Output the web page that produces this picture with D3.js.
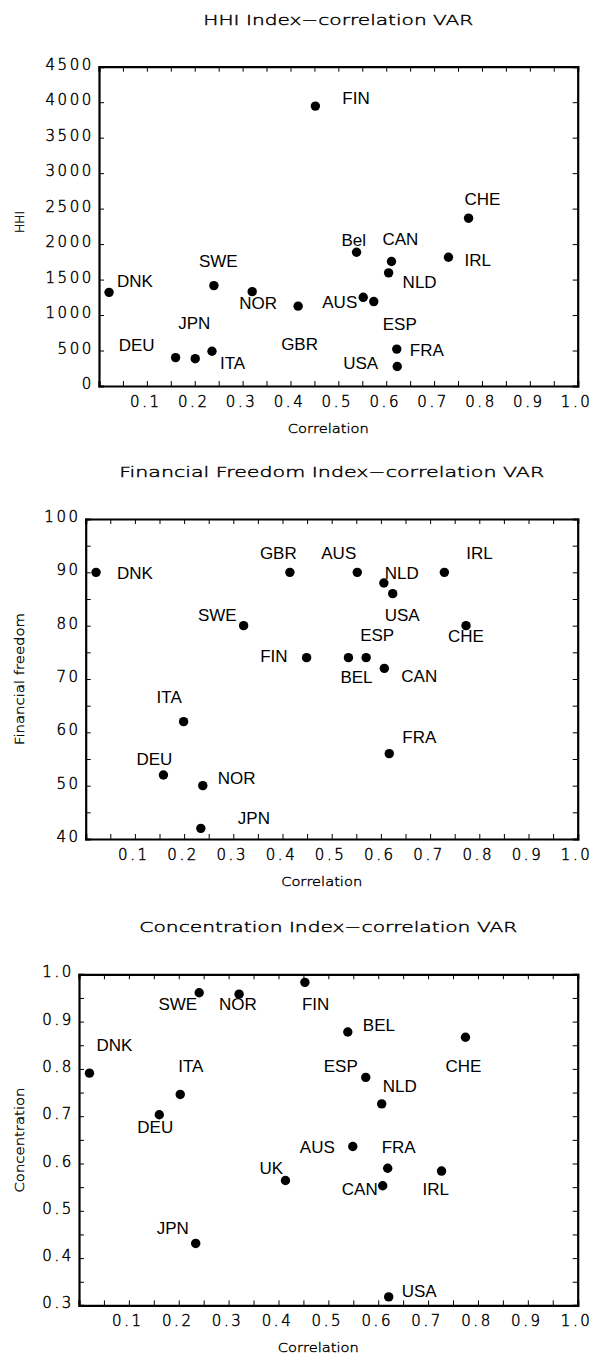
<!DOCTYPE html>
<html>
<head>
<meta charset="utf-8">
<script src="https://cdn.jsdelivr.net/npm/d3@7"></script>
<style>
  html, body { margin: 0; padding: 0; background: #fff; }
  svg { display: block; }
  .tick-label { font-family: "DejaVu Sans", sans-serif; font-weight: 200; font-size: 15px; letter-spacing: 2.6px; fill: #000; stroke: #000; stroke-width: 0.45px; }
  .title { font-family: "DejaVu Sans", sans-serif; font-weight: 200; font-size: 14px; fill: #000; stroke: #000; stroke-width: 0.4px; }
  .axis-title { font-family: "DejaVu Sans", sans-serif; font-weight: 200; font-size: 12px; fill: #000; stroke: #000; stroke-width: 0.35px; }
  .pt-label { font-family: "Liberation Sans", Arial, sans-serif; font-size: 17px; fill: #000; }
</style>
</head>
<body>
<script>
// ---------------- DATA ----------------
const xTickLabels = ["0.1","0.2","0.3","0.4","0.5","0.6","0.7","0.8","0.9","1.0"];

// Panel 1: HHI
const hhiTitle = "HHI Index\u2212correlation VAR";
const hhiCountries = ["DNK","DEU","JPN","ITA","SWE","NOR","GBR","FIN","Bel","AUS","ESP","NLD","CAN","FRA","USA","IRL","CHE"];
const hhiCorr      = [0.021,0.160,0.201,0.236,0.240,0.320,0.416,0.452,0.538,0.552,0.574,0.605,0.611,0.622,0.623,0.730,0.772];
const hhiValues    = [1320, 400, 385, 490, 1415, 1330, 1125, 3945, 1885, 1250, 1190, 1595, 1755, 520, 275, 1815, 2365];
const hhiTickLabels = ["0","500","1000","1500","2000","2500","3000","3500","4000","4500"];

// Panel 2: Financial freedom
const ffTitle = "Financial Freedom Index\u2212correlation VAR";
const ffCountries = ["DNK","GBR","SWE","AUS","NLD","USA","IRL","CHE","ESP","FIN","BEL","CAN","ITA","FRA","DEU","NOR","JPN"];
const ffCorr      = [0.021,0.415,0.321,0.552,0.606,0.624,0.729,0.773,0.570,0.449,0.534,0.607,0.199,0.617,0.158,0.238,0.234];
const ffValues    = [90, 90, 80, 90, 88, 86, 90, 80, 74, 74, 74, 72, 62, 56, 52, 50, 42];
const ffTickLabels = ["40","50","60","70","80","90","100"];

// Panel 3: Concentration
const concTitle = "Concentration Index\u2212correlation VAR";
const concCountries = ["SWE","NOR","DNK","ITA","DEU","FIN","BEL","CHE","ESP","NLD","AUS","FRA","UK","IRL","CAN","JPN","USA"];
const concCorr      = [0.241,0.321,0.021,0.203,0.161,0.453,0.539,0.775,0.575,0.607,0.549,0.619,0.414,0.727,0.609,0.234,0.621];
const concValues    = [0.961,0.958,0.791,0.746,0.703,0.983,0.878,0.867,0.782,0.726,0.636,0.590,0.564,0.584,0.553,0.431,0.318];
const concTickLabels = ["0.3","0.4","0.5","0.6","0.7","0.8","0.9","1.0"];

// ---------------- LABEL PLACEMENT (annotation offsets, px) ----------------
const hhiLabelOffsets = [[8,-5,"start"],[-21,-7,"end"],[-17,-30,"start"],[8,18,"start"],[-15,-19,"start"],[-13,17,"start"],
  [-17,44,"start"],[27,-2,"start"],[-15,-6,"start"],[-6,11,"end"],[9,28,"start"],[14,15,"start"],[-9,-16,"start"],
  [13,7,"start"],[-19,3,"end"],[16,9,"start"],[-4,-13,"start"]];
const ffLabelOffsets = [[21,7,"start"],[-30,-13,"start"],[-7,-5,"end"],[-36,-13,"start"],[1,-4,"start"],[-8,27,"start"],
  [22,-13,"start"],[-18,16,"start"],[-6,-17,"start"],[-19,4,"end"],[-8,25,"start"],[17,14,"start"],[-27,-19,"start"],
  [13,-11,"start"],[-27,-10,"start"],[15,-2,"start"],[37,-4,"start"]];
const concLabelOffsets = [[-2,17,"end"],[-20,16,"start"],[7,-22,"start"],[-2,-22,"start"],[-22,18,"start"],[-3,28,"start"],
  [15,-1,"start"],[-20,35,"start"],[-8,-5,"end"],[1,-12,"start"],[-18,7,"end"],[-6,-15,"start"],[-26,-7,"start"],
  [-19,24,"start"],[-5,9,"end"],[-39,-9,"start"],[13,0,"start"]];

// ---------------- DRAW ----------------
const W = 597, H = 1361;
const svg = d3.select("body").append("svg").attr("width", W).attr("height", H);

function panel(cfg) {
  const g = svg.append("g");
  const x = d3.scaleLinear().domain([0, 1]).range([cfg.left, cfg.right]);
  const y = d3.scaleLinear().domain(cfg.yDomain).range([cfg.bottom, cfg.top]);

  // title
  g.append("text").attr("class", "title")
    .attr("x", (cfg.left + cfg.right) / 2).attr("y", cfg.top - 42)
    .attr("text-anchor", "middle")
    .attr("textLength", cfg.titleLen).attr("lengthAdjust", "spacingAndGlyphs")
    .text(cfg.title);

  // axes with inward ticks
  const xTickVals = d3.range(1, 20).map(i => i * 0.05);
  const yTickVals = d3.range(0, Math.round((cfg.yDomain[1] - cfg.yDomain[0]) / cfg.yTickStep) + 1)
    .map(i => cfg.yDomain[0] + i * cfg.yTickStep);

  const axes = [
    [d3.axisBottom(x).tickValues(xTickVals).tickSize(-5).tickFormat(""), `translate(0,${cfg.bottom})`],
    [d3.axisTop(x).tickValues(xTickVals).tickSize(-5).tickFormat(""), `translate(0,${cfg.top})`],
    [d3.axisLeft(y).tickValues(yTickVals).tickSize(-5).tickFormat(""), `translate(${cfg.left},0)`],
    [d3.axisRight(y).tickValues(yTickVals).tickSize(-5).tickFormat(""), `translate(${cfg.right},0)`]
  ];
  axes.forEach(([ax, tr]) => {
    const a = g.append("g").attr("transform", tr).call(ax);
    a.select(".domain").attr("stroke", "#000").attr("stroke-width", 2.2);
    a.selectAll(".tick line").attr("stroke", "#000").attr("stroke-width", 1);
  });

  // x tick labels
  g.selectAll(".xl").data(xTickLabels).join("text")
    .attr("class", "tick-label")
    .attr("x", d => x(+d) - 1).attr("y", cfg.bottom + 21)
    .attr("text-anchor", "middle")
    .text(d => d);

  // y tick labels
  g.selectAll(".yl").data(cfg.yTickLabels).join("text")
    .attr("class", "tick-label")
    .attr("x", cfg.left - 5).attr("y", d => y(+d) + 3)
    .attr("text-anchor", "end")
    .text(d => d);

  // axis titles
  g.append("text").attr("class", "axis-title")
    .attr("x", (cfg.left + cfg.right) / 2 - 10).attr("y", cfg.bottom + 47)
    .attr("text-anchor", "middle")
    .attr("textLength", 81).attr("lengthAdjust", "spacingAndGlyphs")
    .text("Correlation");
  g.append("text").attr("class", "axis-title")
    .attr("transform", `translate(24,${cfg.yTitleY}) rotate(-90)`)
    .attr("text-anchor", "middle")
    .attr("textLength", cfg.yTitleLen).attr("lengthAdjust", "spacingAndGlyphs")
    .text(cfg.yTitle);

  // points
  g.selectAll("circle").data(cfg.corr).join("circle")
    .attr("cx", d => x(d)).attr("cy", (d, i) => y(cfg.values[i]))
    .attr("r", 4.7).attr("fill", "#000");

  // point labels
  g.selectAll(".pl").data(cfg.names).join("text")
    .attr("class", "pt-label")
    .attr("x", (d, i) => x(cfg.corr[i]) + cfg.offsets[i][0])
    .attr("y", (d, i) => y(cfg.values[i]) + cfg.offsets[i][1])
    .attr("text-anchor", (d, i) => cfg.offsets[i][2])
    .text(d => d);
}

panel({ title: hhiTitle, titleLen: 270, left: 99, right: 577.7, top: 66.7, bottom: 386,
  yDomain: [0, 4500], yTickStep: 500, yTickLabels: hhiTickLabels,
  yTitle: "HHI", yTitleLen: 22, yTitleY: 222,
  names: hhiCountries, corr: hhiCorr, values: hhiValues, offsets: hhiLabelOffsets });

panel({ title: ffTitle, titleLen: 425, left: 85.7, right: 577.7, top: 519, bottom: 839,
  yDomain: [40, 100], yTickStep: 5, yTickLabels: ffTickLabels,
  yTitle: "Financial freedom", yTitleLen: 132, yTitleY: 679,
  names: ffCountries, corr: ffCorr, values: ffValues, offsets: ffLabelOffsets });

panel({ title: concTitle, titleLen: 378, left: 79, right: 577.7, top: 974.3, bottom: 1305.4,
  yDomain: [0.3, 1.0], yTickStep: 0.05, yTickLabels: concTickLabels,
  yTitle: "Concentration", yTitleLen: 105, yTitleY: 1140,
  names: concCountries, corr: concCorr, values: concValues, offsets: concLabelOffsets });
</script>
</body>
</html>
